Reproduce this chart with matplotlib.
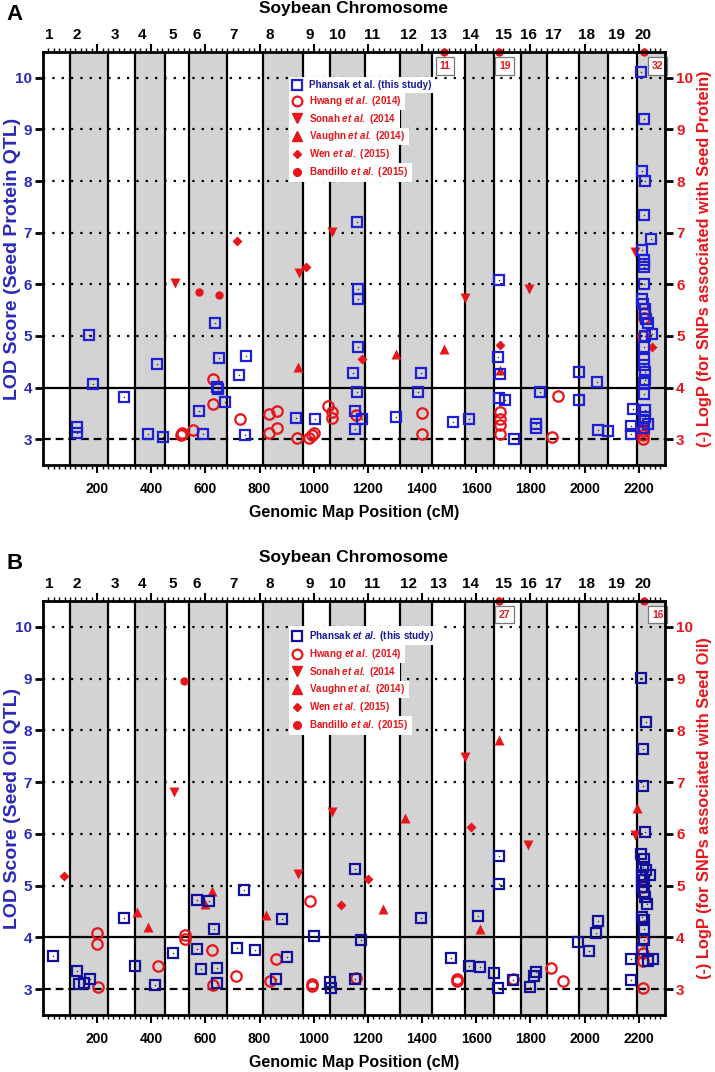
import numpy as np
import matplotlib
matplotlib.use("Agg")
import matplotlib.pyplot as plt
from matplotlib.lines import Line2D
from matplotlib.patches import Rectangle
from matplotlib.transforms import blended_transform_factory

plt.rcParams['font.family'] = ['Liberation Sans', 'DejaVu Sans']
plt.rcParams['font.weight'] = 'bold'
plt.rcParams['mathtext.fontset'] = 'custom'
plt.rcParams['mathtext.it'] = 'Liberation Sans:italic:bold'
plt.rcParams['mathtext.rm'] = 'Liberation Sans:bold'
plt.rcParams['mathtext.default'] = 'it'

# ---------------- data ----------------
chrom_bounds = [0, 98, 240, 339, 451, 540, 678, 813, 959, 1059, 1190, 1317, 1437, 1558, 1667, 1767, 1862, 1981, 2088, 2193, 2297]
chrom_names = [str(i) for i in range(1, 21)]
chrom_label_pos = [25, 125, 265, 366, 478, 569, 704, 838, 986, 1087, 1217, 1348, 1462, 1580, 1700, 1792, 1884, 2006, 2118, 2214]

# Panel A (seed protein)
A_phansak_x = [127, 127, 170, 184, 301, 388, 421, 443, 575, 591, 635, 643, 648, 651, 672, 723, 746, 749,
               934, 1004, 1144, 1154, 1154, 1159, 1159, 1162, 1162, 1162, 1178, 1304, 1384, 1396, 1514, 1573,
               1680, 1684, 1686, 1684, 1707, 1741, 1819, 1822, 1837, 1980, 1980, 2044, 2050, 2085, 2172, 2170, 2177,
               2207, 2221, 2211, 2223, 2221, 2246, 2211, 2219, 2219, 2219, 2220, 2211, 2217, 2222, 2224, 2228, 2233,
               2248, 2222, 2219, 2219, 2219, 2224, 2222, 2220, 2220, 2222, 2222, 2219, 2233, 2219]
A_phansak_y = [3.23, 3.12, 5.02, 4.06, 3.82, 3.10, 4.45, 3.04, 3.55, 3.10, 5.26, 4.01, 3.97, 4.58, 3.73, 4.24, 3.08, 4.61,
               3.42, 3.40, 4.28, 3.55, 3.19, 3.91, 7.20, 5.90, 5.71, 4.79, 3.40, 3.44, 3.92, 4.29, 3.33, 3.40,
               4.59, 6.09, 4.26, 3.79, 3.75, 3.00, 3.29, 3.21, 3.91, 4.30, 3.75, 4.10, 3.18, 3.15, 3.26, 3.11, 3.58,
               10.12, 9.20, 8.20, 8.01, 7.35, 6.88, 6.66, 6.48, 6.40, 6.33, 6.01, 5.72, 5.62, 5.53, 5.43, 5.33, 5.25,
               5.04, 4.99, 4.79, 4.56, 4.43, 4.30, 4.14, 4.08, 3.88, 3.56, 3.43, 3.35, 3.29, 3.22]
A_hwang_x = [509, 512, 514, 553, 627, 627, 727, 834, 863, 834, 863, 937, 983, 992, 1001, 1051, 1069, 1069, 1155,
             1400, 1400, 1688, 1688, 1688, 1688, 1880, 1900, 2217, 2221, 2221, 2215, 2215, 2215, 2215]
A_hwang_y = [3.08, 3.10, 3.13, 3.18, 4.17, 3.68, 3.39, 3.48, 3.55, 3.12, 3.21, 3.03, 3.03, 3.08, 3.13, 3.64, 3.53, 3.42, 3.47,
             3.50, 3.10, 3.52, 3.39, 3.27, 3.10, 3.04, 3.84, 4.99, 5.45, 5.35, 3.00, 3.08, 3.15, 3.22]
A_sonah_x = [489, 947, 1069, 1560, 1794, 2185]
A_sonah_y = [6.03, 6.22, 7.01, 5.73, 5.90, 6.63]
A_vaughn_x = [942, 1304, 1480, 1689]
A_vaughn_y = [4.40, 4.66, 4.74, 4.35]
A_wen_x = [717, 972, 1178, 1689, 2250]
A_wen_y = [6.84, 6.34, 4.55, 4.82, 4.79]
A_bandillo_x = [578, 651, 1480, 1685, 2219]
A_bandillo_y = [5.85, 5.79, 11, 19, 32]

# Panel B (seed oil)
B_phansak_x = [37, 126, 133, 150, 172, 300, 338, 415, 479, 567, 569, 585, 612, 631, 644, 644, 717, 742, 783, 859,
               881, 902, 1001, 1060, 1062, 1152, 1152, 1174, 1396, 1507, 1573, 1606, 1613, 1665, 1683, 1683, 1680,
               1735, 1800, 1812, 1822, 1977, 2016, 2042, 2048, 2172, 2172,
               2207, 2227, 2214, 2217, 2223, 2210, 2219, 2215, 2225, 2212, 2243, 2219, 2213, 2220, 2222, 2229,
               2213, 2220, 2220, 2220, 2211, 2254, 2235]
B_phansak_y = [3.63, 3.35, 3.10, 3.12, 3.20, 4.38, 3.45, 3.07, 3.70, 4.73, 3.78, 3.38, 4.70, 4.17, 3.40, 3.11, 3.80, 4.92, 3.76, 3.19,
               4.35, 3.62, 4.02, 3.13, 3.02, 5.32, 3.20, 3.94, 4.38, 3.61, 3.45, 4.41, 3.43, 3.32, 5.57, 5.04, 3.02,
               3.18, 3.05, 3.25, 3.33, 3.91, 3.73, 4.08, 4.32, 3.59, 3.18,
               9.02, 8.16, 7.64, 6.93, 6.03, 5.61, 5.52, 5.36, 5.30, 5.20, 5.20, 5.10, 4.97, 4.88, 4.78, 4.64,
               4.39, 4.33, 4.17, 3.94, 3.78, 3.59, 3.55]
B_hwang_x = [199, 199, 205, 424, 523, 526, 625, 628, 712, 840, 859, 986, 995, 995, 1155, 1530, 1530, 1735, 1875, 1920,
             2215, 2215, 2217, 2215, 2215]
B_hwang_y = [4.09, 3.88, 3.05, 3.45, 4.05, 3.97, 3.75, 3.08, 3.25, 3.15, 3.59, 4.70, 3.06, 3.10, 3.22, 3.15, 3.20, 3.20, 3.40, 3.15,
             4.97, 3.94, 3.70, 3.55, 3.03]
B_sonah_x = [483, 943, 1069, 1559, 1791, 2186]
B_sonah_y = [6.80, 5.23, 6.42, 7.49, 5.79, 5.97]
B_vaughn_x = [347, 386, 600, 623, 822, 1256, 1337, 1612, 1683, 2193]
B_vaughn_y = [4.49, 4.20, 4.64, 4.89, 4.44, 4.54, 6.30, 4.17, 7.81, 6.49]
B_wen_x = [79, 1100, 1202, 1581]
B_wen_y = [5.18, 4.63, 5.12, 6.13]
B_bandillo_x = [522, 1685, 2219]
B_bandillo_y = [8.95, 27, 16]

# ---------------- style ----------------
RED = '#e8161b'
BLUE_A = '#1f1fd8'
BLUE_B = '#10109c'
BLUE_TXT = '#2a2ab8'
GRAY = '#d3d3d3'
YMIN, YMAX = 2.5, 10.5
XMIN, XMAX = 0, 2297

fig = plt.figure(figsize=(7.15, 10.72), dpi=100)
legends = []

def draw_panel(rect, letter, sq_x, sq_y, hw_x, hw_y, so_x, so_y, va_x, va_y, we_x, we_y, ba_x, ba_y,
               blue, trait, phansak_label, box_offsets):
    ax = fig.add_axes(rect)
    ax.set_xlim(XMIN, XMAX)
    ax.set_ylim(YMIN, YMAX)
    for i in range(len(chrom_bounds) - 1):
        if i % 2 == 1:
            ax.axvspan(chrom_bounds[i], chrom_bounds[i + 1], color=GRAY, lw=0, zorder=0)
    for yv in range(5, 11):
        ax.axhline(yv, color='black', lw=1.6, ls=(0, (1, 3.2)), zorder=1)
    ax.axhline(4, color='black', lw=1.6, zorder=1)
    ax.axhline(3, color='black', lw=1.6, ls=(0, (3.5, 2.2)), zorder=1)
    for b in chrom_bounds[1:-1]:
        ax.axvline(b, color='black', lw=1.6, zorder=2)

    ax.plot(sq_x, sq_y, ls='none', marker='s', ms=7.2, mfc='none', mec=blue, mew=1.6, zorder=4, clip_on=False)
    ax.plot(sq_x, sq_y, ls='none', marker='o', ms=1.1, mfc='#333333', mec='none', zorder=4)
    ax.plot(hw_x, hw_y, ls='none', marker='o', ms=7.5, mfc='none', mec=RED, mew=1.6, zorder=3)
    ax.plot(so_x, so_y, ls='none', marker='v', ms=6.5, color=RED, mec='none', zorder=3)
    ax.plot(va_x, va_y, ls='none', marker='^', ms=6.5, color=RED, mec='none', zorder=3)
    ax.plot(we_x, we_y, ls='none', marker='D', ms=4.8, color=RED, mec='none', zorder=3)
    ba_x = np.asarray(ba_x, float)
    ba_y = np.asarray(ba_y, float)
    ax.plot(ba_x, np.minimum(ba_y, YMAX), ls='none', marker='o', ms=6, color=RED, mec='none', zorder=6, clip_on=False)
    off = iter(box_offsets)
    for xv, yv in zip(ba_x, ba_y):
        if yv > YMAX:
            ax.annotate(f'{yv:.0f}', xy=(xv, YMAX), xytext=next(off), textcoords='offset points',
                        ha='center', va='center', fontsize=7.5, fontweight='bold', color=RED, zorder=7,
                        bbox=dict(boxstyle='square,pad=0.35', fc='white', ec='#777777', lw=0.9))

    for s in ax.spines.values():
        s.set_linewidth(2.0)
        s.set_zorder(8)
    ax.set_xticks(np.arange(200, 2201, 200))
    ax.set_xticks(np.arange(20, 2297, 20), minor=True)
    ax.tick_params(axis='x', which='major', direction='out', length=6, width=1.5, top=True,
                   labelsize=10, pad=6)
    ax.tick_params(axis='x', which='minor', direction='out', length=3, width=1.0, top=True)
    for lab in ax.get_xticklabels():
        lab.set_fontweight('bold')
    ax.set_yticks(range(3, 11))
    ax.tick_params(axis='y', direction='out', length=6, width=2, labelsize=11, labelcolor=BLUE_TXT, pad=2)
    for lab in ax.get_yticklabels():
        lab.set_fontweight('bold')
    ax.set_ylabel(f'LOD Score (Seed {trait} QTL)', color=BLUE_TXT, fontsize=14, fontweight='bold')
    ax.yaxis.set_label_coords(-0.036, 0.5)
    ax.set_xlabel('Genomic Map Position (cM)', fontsize=11.5, fontweight='bold', labelpad=7)

    ax2 = ax.twinx()
    ax2.set_ylim(YMIN, YMAX)
    ax2.set_yticks(range(3, 11))
    ax2.tick_params(axis='y', direction='out', length=6, width=2, labelsize=11, labelcolor=RED, pad=2)
    for lab in ax2.get_yticklabels():
        lab.set_fontweight('bold')
    for s in ax2.spines.values():
        s.set_visible(False)
    ax2.set_ylabel(f'(-) LogP (for SNPs associated with Seed {trait})', color=RED, fontsize=11.8,
                   fontweight='bold', rotation=90)
    ax2.yaxis.set_label_coords(1.052, 0.5)

    trans = blended_transform_factory(ax.transData, ax.transAxes)
    for pos, name in zip(chrom_label_pos, chrom_names):
        ax.text(pos, 1.042, name, transform=trans, ha='center', va='center', fontsize=11, fontweight='bold')
    ax.text(0.5, 1.105, 'Soybean Chromosome', transform=ax.transAxes, ha='center', va='center',
            fontsize=12.5, fontweight='bold')
    ax.text(-0.058, 1.09, letter, transform=ax.transAxes, ha='left', va='center', fontsize=16, fontweight='bold')

    handles = [
        Line2D([], [], ls='none', marker='s', ms=7, mfc='none', mec=blue, mew=1.6),
        Line2D([], [], ls='none', marker='o', ms=7, mfc='none', mec=RED, mew=1.6),
        Line2D([], [], ls='none', marker='v', ms=6.5, color=RED),
        Line2D([], [], ls='none', marker='^', ms=6.5, color=RED),
        Line2D([], [], ls='none', marker='D', ms=4.5, color=RED),
        Line2D([], [], ls='none', marker='o', ms=5.5, color=RED),
    ]
    labels = [phansak_label,
              r'Hwang $\it{et\ al.}$ (2014)',
              r'Sonah $\it{et\ al.}$ (2014',
              r'Vaughn $\it{et\ al.}$ (2014)',
              r'Wen $\it{et\ al.}$ (2015)',
              r'Bandillo $\it{et\ al.}$ (2015)']
    leg = ax.legend(handles, labels, loc='upper left', bbox_to_anchor=(0.395, 0.94), frameon=False,
                    prop={'size': 7.1, 'weight': 'bold'}, handlelength=0.9, handletextpad=0.8,
                    labelspacing=0.38, borderpad=0.35, borderaxespad=0)
    leg.set_zorder(9)
    for i, t in enumerate(leg.get_texts()):
        t.set_color('#1a1a9a' if i == 0 else RED)
    legends.append((ax, leg))
    return ax

draw_panel([0.0601, 0.5662, 0.870, 0.3853], 'A', A_phansak_x, A_phansak_y, A_hwang_x, A_hwang_y,
           A_sonah_x, A_sonah_y, A_vaughn_x, A_vaughn_y, A_wen_x, A_wen_y, A_bandillo_x, A_bandillo_y,
           BLUE_A, 'Protein', 'Phansak et al. (this study)', [(1, -10), (4, -10), (10, -10)])
draw_panel([0.0601, 0.0532, 0.870, 0.3862], 'B', B_phansak_x, B_phansak_y, B_hwang_x, B_hwang_y,
           B_sonah_x, B_sonah_y, B_vaughn_x, B_vaughn_y, B_wen_x, B_wen_y, B_bandillo_x, B_bandillo_y,
           BLUE_B, 'Oil', r'Phansak $\it{et\ al.}$ (this study)', [(4, -10), (10, -10)])

# per-row white backgrounds behind the legends (ragged right edge as in the original)
fig.canvas.draw()
renderer = fig.canvas.get_renderer()
for ax, leg in legends:
    bb = leg.get_window_extent(renderer)
    texts = leg.get_texts()
    tb = [t.get_window_extent(renderer) for t in texts]
    centers = [(b.y0 + b.y1) / 2 for b in tb]
    inv = ax.transAxes.inverted()
    n = len(tb)
    for i in range(n):
        top = bb.y1 if i == 0 else (centers[i - 1] + centers[i]) / 2
        bot = bb.y0 if i == n - 1 else (centers[i] + centers[i + 1]) / 2
        x0, x1 = bb.x0, tb[i].x1 + 4
        (ax0, ay0) = inv.transform((x0, bot))
        (ax1, ay1) = inv.transform((x1, top))
        ax.add_patch(Rectangle((ax0, ay0), ax1 - ax0, ay1 - ay0, transform=ax.transAxes,
                               facecolor='white', edgecolor='none', zorder=8.5))

fig.savefig('out.png', dpi=100)
